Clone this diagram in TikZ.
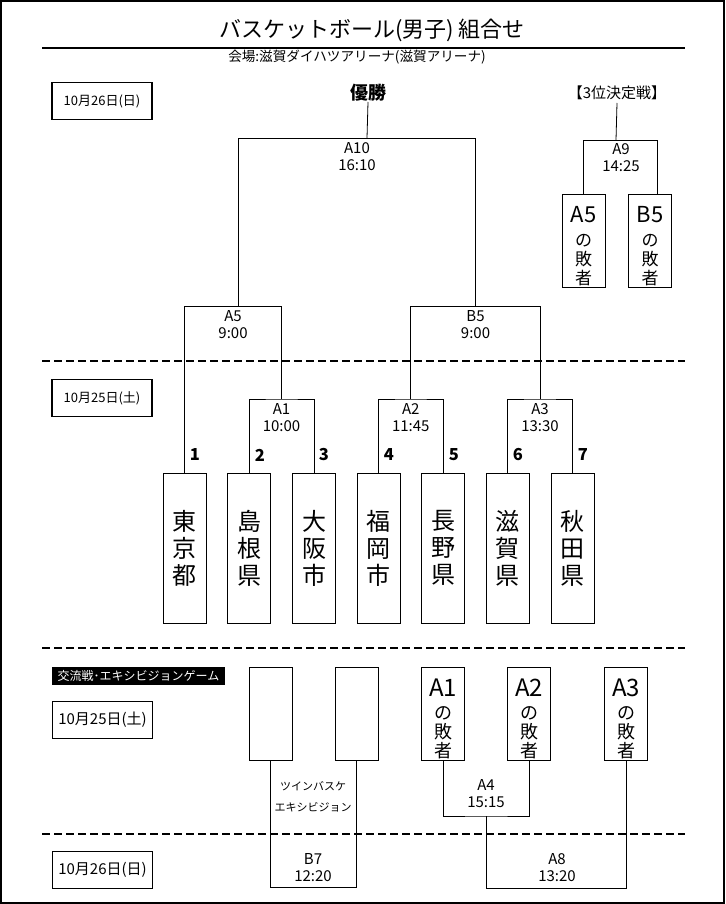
\documentclass[tikz,border=0pt]{standalone}
\usepackage{fontspec}
\setmainfont{Noto Sans CJK JP}
\begin{document}
\begin{tikzpicture}[x=1pt,y=-1pt,line width=0.8pt,
  teambox/.style={draw,minimum width=43pt,minimum height=150pt,inner sep=0pt,align=center,font=\fontsize{24}{27}\selectfont},
  emptybox/.style={draw,minimum width=43pt,minimum height=93pt,inner sep=0pt},
  losertxt/.style={inner sep=0pt,align=center,font=\fontsize{17}{19}\selectfont},
  losertxtb/.style={inner sep=0pt,align=center,font=\fontsize{18}{19}\selectfont},
  datebox/.style={draw,line width=1.6pt,minimum width=100pt,minimum height=37pt,inner sep=0pt},
  lbl/.style={align=center,inner sep=0pt,font=\fontsize{15}{17}\selectfont},
  num/.style={inner sep=0pt,font=\bfseries\fontsize{16.5}{16}\selectfont},
  dashline/.style={line width=1.8pt,dash pattern=on 8pt off 4pt},
  bracket/.style={line width=0.8pt}]
\useasboundingbox (0,0) rectangle (725,904);
\draw[line width=2.4pt] (1.2,1.2) rectangle (723.8,902.8);

% title
\node[inner sep=0pt,font=\fontsize{22}{24}\selectfont] (title) at (372,30) {バスケットボール(男子) 組合せ};
\draw[line width=2pt] (42,48) -- (685,48);
\node[inner sep=0pt,font=\fontsize{13.6}{14}\selectfont] (venue) at (357,57) {会場:滋賀ダイハツアリーナ(滋賀アリーナ)};

% date boxes
\node[datebox,font=\fontsize{13}{14}\selectfont] (d1) at (102,101) {10月26日(日)};
\node[datebox,font=\fontsize{13}{14}\selectfont] (d2) at (102,398) {10月25日(土)};
\node[datebox,font=\fontsize{15}{16}\selectfont] (d3) at (102.5,720) {10月25日(土)};
\node[datebox,font=\fontsize{15}{16}\selectfont] (d4) at (102.5,870) {10月26日(日)};
\node[fill=black,text=white,minimum width=173pt,minimum height=18pt,inner sep=0pt,font=\fontsize{12}{13}\selectfont] (exh) at (138.5,676) {交流戦･エキシビジョンゲーム};

% dashed separators
\draw[dashline] (42,361) -- (685,361);
\draw[dashline] (42,648) -- (685,648);
\draw[dashline] (42,834) -- (685,834);

% team boxes
\node[teambox] (t1) at (184.5,548) {東\\京\\都};
\node[teambox] (t2) at (249,548) {島\\根\\県};
\node[teambox] (t3) at (314,548) {大\\阪\\市};
\node[teambox] (t4) at (378.5,548) {福\\岡\\市};
\node[teambox] (t5) at (443,548) {長\\野\\県};
\node[teambox] (t6) at (507.5,548) {滋\\賀\\県};
\node[teambox] (t7) at (572.5,548) {秋\\田\\県};

% numbers
\node[num] (n1) at (195,455) {1};
\node[num] (n2) at (260,455) {2};
\node[num] (n3) at (324,455) {3};
\node[num] (n4) at (389,455) {4};
\node[num] (n5) at (454,455) {5};
\node[num] (n6) at (518,455) {6};
\node[num] (n7) at (583,455) {7};

% first round joints
\coordinate (a1) at (281.5,399);
\coordinate (a2) at (410.75,399);
\coordinate (a3) at (540,399);
\draw[bracket] (t2.north) |- (a1) -| (t3.north);
\draw[bracket] (t4.north) |- (a2) -| (t5.north);
\draw[bracket] (t6.north) |- (a3) -| (t7.north);
\node[lbl] (la1) at (281.5,418) {A1\\10:00};
\node[lbl] (la2) at (410.75,418) {A2\\11:45};
\node[lbl] (la3) at (540,418) {A3\\13:30};

% semifinals
\coordinate (a5l) at (184.5,306);
\coordinate (a5r) at (281.5,306);
\coordinate (b5l) at (410.75,306);
\coordinate (b5r) at (540,306);
\draw[bracket] (t1.north) -- (a5l) -- (a5r) -- (a1);
\draw[bracket] (a2) -- (b5l) -- (b5r) -- (a3);
\node[lbl] (la5) at (233,325) {A5\\9:00};
\node[lbl] (lb5) at (475.5,325) {B5\\9:00};

% final
\coordinate (a5t) at (238,306);
\coordinate (b5t) at (475.5,306);
\coordinate (a10l) at (238,138);
\coordinate (a10r) at (475.5,138);
\coordinate (a10t) at (367,138);
\node[inner sep=0pt,font=\bfseries\fontsize{18}{18}\selectfont] (win) at (368,93) {優勝};
\draw[bracket] (win.south |- 0,102) -- (a10t);
\draw[bracket] (a5t) -- (a10l) -- (a10r) -- (b5t);
\node[lbl] (la10) at (357,157) {A10\\16:10};

% third place
\node[inner sep=0pt,font=\fontsize{15}{16}\selectfont] (third) at (617,93) {【3位決定戦】};
\node[emptybox] (q1) at (583.5,240.5) {};
\node[emptybox] (q2) at (650,240.5) {};
\node[losertxt] (q1t) at (583.5,246.5) {{\fontsize{22}{24}\selectfont A5}\\[5pt]の\\敗\\者};
\node[losertxt] (q2t) at (650,246.5) {{\fontsize{22}{24}\selectfont B5}\\[5pt]の\\敗\\者};
\coordinate (a9l) at (583.5,140);
\coordinate (a9r) at (657,140);
\coordinate (a9t) at (616,140);
\coordinate (q2in) at (657,194);
\draw[bracket] (q1.north) -- (a9l) -- (a9r) -- (q2in);
\draw[bracket] (third.south |- 0,103) -- (a9t);
\node[lbl] (la9) at (621,158) {A9\\14:25};

% exhibition / consolation
\node[emptybox] (e1) at (270.5,713.5) {};
\node[emptybox] (e2) at (356.5,713.5) {};
\node[emptybox] (l1) at (443,713.5) {};
\node[emptybox] (l2) at (529,713.5) {};
\node[emptybox] (l3) at (626,713.5) {};
\node[losertxtb] (l1t) at (443,718.5) {{\fontsize{24}{26}\selectfont A1}\\[4pt]の\\敗\\者};
\node[losertxtb] (l2t) at (529,718.5) {{\fontsize{24}{26}\selectfont A2}\\[4pt]の\\敗\\者};
\node[losertxtb] (l3t) at (626,718.5) {{\fontsize{24}{26}\selectfont A3}\\[4pt]の\\敗\\者};

\coordinate (b7) at (313,887);
\draw[bracket] (e1.south) |- (b7) -| (e2.south);
\node[inner sep=0pt,align=center,font=\fontsize{11}{20.5}\selectfont] (twin) at (313,797) {ツインバスケ\\エキシビジョン};
\node[lbl] (lb7) at (313,868) {B7\\12:20};

\coordinate (a4) at (486,816);
\draw[bracket] (l1.south) |- (a4) -| (l2.south);
\node[lbl] (la4) at (486,794) {A4\\15:15};
\coordinate (a8l) at (486,888);
\draw[bracket] (a4) -- (a8l) -| (l3.south);
\node[lbl] (la8) at (557,868) {A8\\13:20};
\end{tikzpicture}
\end{document}
